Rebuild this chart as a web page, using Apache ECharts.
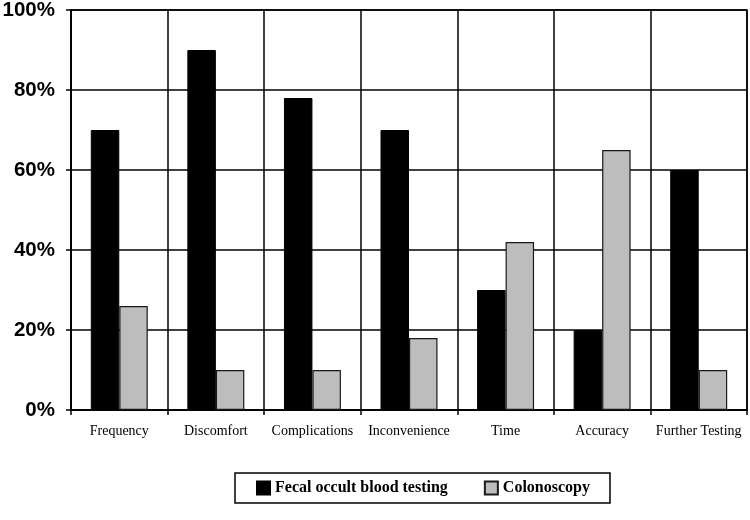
<!DOCTYPE html>
<html><head><meta charset="utf-8">
<script src="https://cdn.jsdelivr.net/npm/echarts@6/dist/echarts.min.js"></script>
<style>html,body{margin:0;padding:0;background:#fff}#c{width:750px;height:520px}</style>
</head><body><div id="c"></div>
<script>
const categories = ['Frequency','Discomfort','Complications','Inconvenience','Time','Accuracy','Further Testing'];
const fobt = [70, 90, 78, 70, 30, 20, 60];
const colonoscopy = [26, 10, 10, 18, 42, 65, 10];
const seriesNames = ['Fecal occult blood testing','Colonoscopy'];

const chart = echarts.init(document.getElementById('c'), null, {renderer:'canvas'});
chart.setOption({
  animation:false,
  backgroundColor:'#fff',
  grid:{left:71,right:3,top:10,bottom:110,outerBoundsMode:'none',containLabel:false,show:true,borderColor:'#000',borderWidth:1.5,backgroundColor:'transparent'},
  legend:{
    top:473,left:235,
    data:seriesNames,
    icon:'rect',itemWidth:13,itemHeight:13,itemGap:36,
    borderColor:'#000',borderWidth:1.5,
    padding:[7,20,7,21],
    textStyle:{fontFamily:'Liberation Serif',fontWeight:'bold',fontSize:16,color:'#000'}
  },
  xAxis:{
    type:'category',data:categories,
    axisLine:{lineStyle:{color:'#000',width:1.5}},
    axisTick:{show:true,length:5,lineStyle:{color:'#000',width:1.5}},
    splitLine:{show:true,lineStyle:{color:'#000',width:1.5}},
    axisLabel:{color:'#000',fontFamily:'Liberation Serif',fontSize:14,margin:14,interval:0}
  },
  yAxis:{
    type:'value',min:0,max:100,interval:20,
    axisLine:{show:true,lineStyle:{color:'#000',width:1.5}},
    axisTick:{show:true,length:5,lineStyle:{color:'#000',width:1.5}},
    splitLine:{show:true,lineStyle:{color:'#000',width:1.5}},
    axisLabel:{formatter:'{value}%',color:'#000',fontFamily:'Liberation Sans',fontWeight:'bold',fontSize:20.5,margin:16}
  },
  series:[
    {name:seriesNames[0],type:'bar',data:fobt,barGap:'0%',barCategoryGap:'41%',
     itemStyle:{color:'#000',borderColor:'#000',borderWidth:1}},
    {name:seriesNames[1],type:'bar',data:colonoscopy,
     itemStyle:{color:'#bdbdbd',borderColor:'#1a1a1a',borderWidth:1.2}}
  ]
});
</script></body></html>
